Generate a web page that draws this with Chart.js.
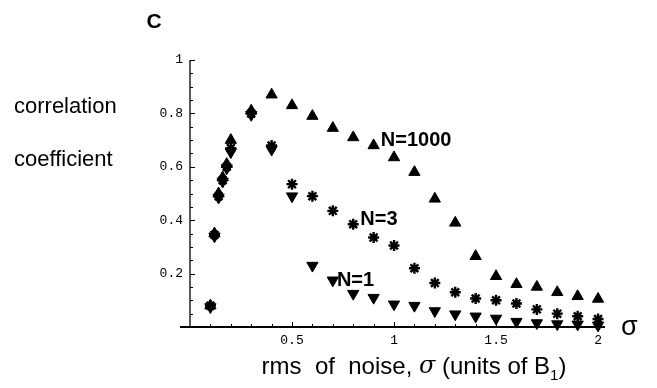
<!DOCTYPE html>
<html>
<head>
<meta charset="utf-8">
<script src="https://cdn.jsdelivr.net/npm/chart.js@4"></script>
<style>
  html, body { margin: 0; padding: 0; background: #fff; }
  #wrap { width: 657px; height: 388px; position: relative; }
</style>
</head>
<body>
<div id="wrap"><canvas id="c" width="657" height="388"></canvas></div>
<script>
// ---- data ----
const sigma = [0.1, 0.12, 0.14, 0.16, 0.18, 0.2, 0.3, 0.4, 0.5, 0.6, 0.7, 0.8, 0.9, 1.0, 1.1, 1.2, 1.3, 1.4, 1.5, 1.6, 1.7, 1.8, 1.9, 2.0];
const corrN1000 = [0.08, 0.35, 0.50, 0.56, 0.61, 0.70, 0.81, 0.87, 0.83, 0.79, 0.745, 0.71, 0.68, 0.635, 0.58, 0.48, 0.39, 0.265, 0.19, 0.16, 0.15, 0.13, 0.115, 0.105];
const corrN3    = [0.08, 0.345, 0.49, 0.55, 0.60, 0.67, 0.80, 0.68, 0.535, 0.49, 0.435, 0.385, 0.335, 0.305, 0.22, 0.165, 0.13, 0.107, 0.10, 0.088, 0.066, 0.05, 0.04, 0.03];
const corrN1    = [0.075, 0.34, 0.485, 0.545, 0.595, 0.655, 0.795, 0.665, 0.49, 0.23, 0.175, 0.125, 0.11, 0.085, 0.08, 0.06, 0.048, 0.04, 0.032, 0.02, 0.015, 0.011, 0.01, 0.006];
const xTicks = [0.5, 1, 1.5, 2];
const yTicks = [0.2, 0.4, 0.6, 0.8, 1];
const seriesLabels = ['N=1000', 'N=3', 'N=1'];
// label anchors in data units [sigma, correlation]
const labelAnchors = [[0.935, 0.70], [0.835, 0.403], [0.72, 0.175]];

const toPts = ys => sigma.map((s, i) => ({ x: s, y: ys[i] }));

const fmt = v => {
  const r = Math.round(v * 10) / 10;
  return Number.isInteger(r) ? String(r) : r.toFixed(1);
};

const SANS = '"Liberation Sans", Arial, sans-serif';

const decor = {
  id: 'decor',
  afterDatasetsDraw(chart) {
    const ctx = chart.ctx;
    const xs = chart.scales.x, ys = chart.scales.y;
    const x0 = xs.getPixelForValue(0), y0 = ys.getPixelForValue(0);
    ctx.save();
    ctx.strokeStyle = '#000';
    ctx.fillStyle = '#000';
    // axes
    ctx.lineWidth = 2;
    ctx.beginPath();
    ctx.moveTo(x0 - 10, y0); ctx.lineTo(xs.right, y0); ctx.stroke();
    ctx.lineWidth = 1.3;
    ctx.beginPath();
    ctx.moveTo(x0, y0); ctx.lineTo(x0, ys.getPixelForValue(1)); ctx.stroke();
    // inward ticks
    ctx.lineWidth = 1;
    for (let k = 1; k <= 20; k++) {
      const v = k / 10;
      const px = Math.round(xs.getPixelForValue(v)) + 0.5;
      const len = (k % 5 === 0) ? 5 : 3;
      ctx.beginPath(); ctx.moveTo(px, y0); ctx.lineTo(px, y0 - len); ctx.stroke();
    }
    for (let k = 1; k <= 20; k++) {
      const v = k / 20;
      const py = Math.round(ys.getPixelForValue(v)) + 0.5;
      const len = (k % 4 === 0) ? 5 : 3;
      ctx.beginPath(); ctx.moveTo(x0, py); ctx.lineTo(x0 + len, py); ctx.stroke();
    }
    // series labels
    ctx.font = 'bold 20px ' + SANS;
    ctx.textAlign = 'left';
    ctx.textBaseline = 'middle';
    seriesLabels.forEach((t, i) => {
      ctx.fillText(t, xs.getPixelForValue(labelAnchors[i][0]), ys.getPixelForValue(labelAnchors[i][1]));
    });
    // panel letter
    ctx.font = 'bold 21px ' + SANS;
    ctx.textAlign = 'center';
    ctx.fillText('C', 154, 22);
    // y title
    ctx.font = '22px ' + SANS;
    ctx.textAlign = 'left';
    ctx.fillText('correlation', 14, 107);
    ctx.fillText('coefficient', 14, 160);
    // sigma at axis end
    ctx.font = '27px ' + SANS;
    ctx.fillText('σ', 621, y0 + 1);
    // x title
    const fs = 24;
    const yT = 367;
    ctx.font = fs + 'px ' + SANS;
    const p1 = 'rms  of  noise, ';
    const p2 = ' (units of B';
    const wSig = (() => { ctx.font = 'italic ' + fs + 'px "DejaVu Serif", serif'; return ctx.measureText('σ').width; })();
    ctx.font = fs + 'px ' + SANS;
    const w1 = ctx.measureText(p1).width, w2 = ctx.measureText(p2).width, w3 = ctx.measureText(')').width;
    ctx.font = '15px ' + SANS;
    const wSub = ctx.measureText('1').width;
    let x = 414 - (w1 + wSig + w2 + wSub + w3) / 2;
    ctx.font = fs + 'px ' + SANS;
    ctx.fillText(p1, x, yT); x += w1;
    ctx.font = 'italic ' + fs + 'px "DejaVu Serif", serif';
    ctx.fillText('σ', x, yT); x += wSig;
    ctx.font = fs + 'px ' + SANS;
    ctx.fillText(p2, x, yT); x += w2;
    ctx.font = '15px ' + SANS;
    ctx.fillText('1', x, yT + 9); x += wSub;
    ctx.font = fs + 'px ' + SANS;
    ctx.fillText(')', x, yT);
    ctx.restore();
  }
};

const ds = (label, data, style, rot, r) => ({
  label, data: toPts(data), showLine: false,
  pointStyle: style, rotation: rot, pointRadius: r, pointHoverRadius: r,
  backgroundColor: '#000', borderColor: '#000', borderWidth: style === 'star' ? 2.4 : 1,
  clip: false
});

new Chart(document.getElementById('c'), {
  type: 'scatter',
  data: {
    datasets: [
      ds('N=1', corrN1, 'triangle', 180, 6.5),
      ds('N=3', corrN3, 'star', 0, 5.5),
      ds('N=1000', corrN1000, 'triangle', 0, 6.5)
    ]
  },
  options: {
    responsive: false,
    animation: false,
    devicePixelRatio: 1,
    layout: { padding: { left: 0, right: 52, top: 60, bottom: 0 } },
    plugins: { legend: { display: false }, tooltip: { enabled: false }, title: { display: false } },
    scales: {
      x: {
        type: 'linear', min: 0, max: 2.034,
        grid: { display: false, drawTicks: false },
        border: { display: false },
        afterFit: s => { s.height = 61; },
        afterBuildTicks: s => { s.ticks = xTicks.map(v => ({ value: v })); },
        ticks: {
          padding: 6, maxRotation: 0, autoSkip: false,
          color: '#000', font: { family: '"Liberation Mono", "Courier New", monospace', size: 13 },
          callback: v => fmt(v)
        }
      },
      y: {
        type: 'linear', min: 0, max: 1,
        grid: { display: false, drawTicks: false },
        border: { display: false },
        afterFit: s => { s.width = 190; },
        afterBuildTicks: s => { s.ticks = yTicks.map(v => ({ value: v })); },
        ticks: {
          padding: 7, autoSkip: false,
          color: '#000', font: { family: '"Liberation Mono", "Courier New", monospace', size: 13 },
          callback: v => fmt(v)
        }
      }
    }
  },
  plugins: [decor]
});
</script>
</body>
</html>
